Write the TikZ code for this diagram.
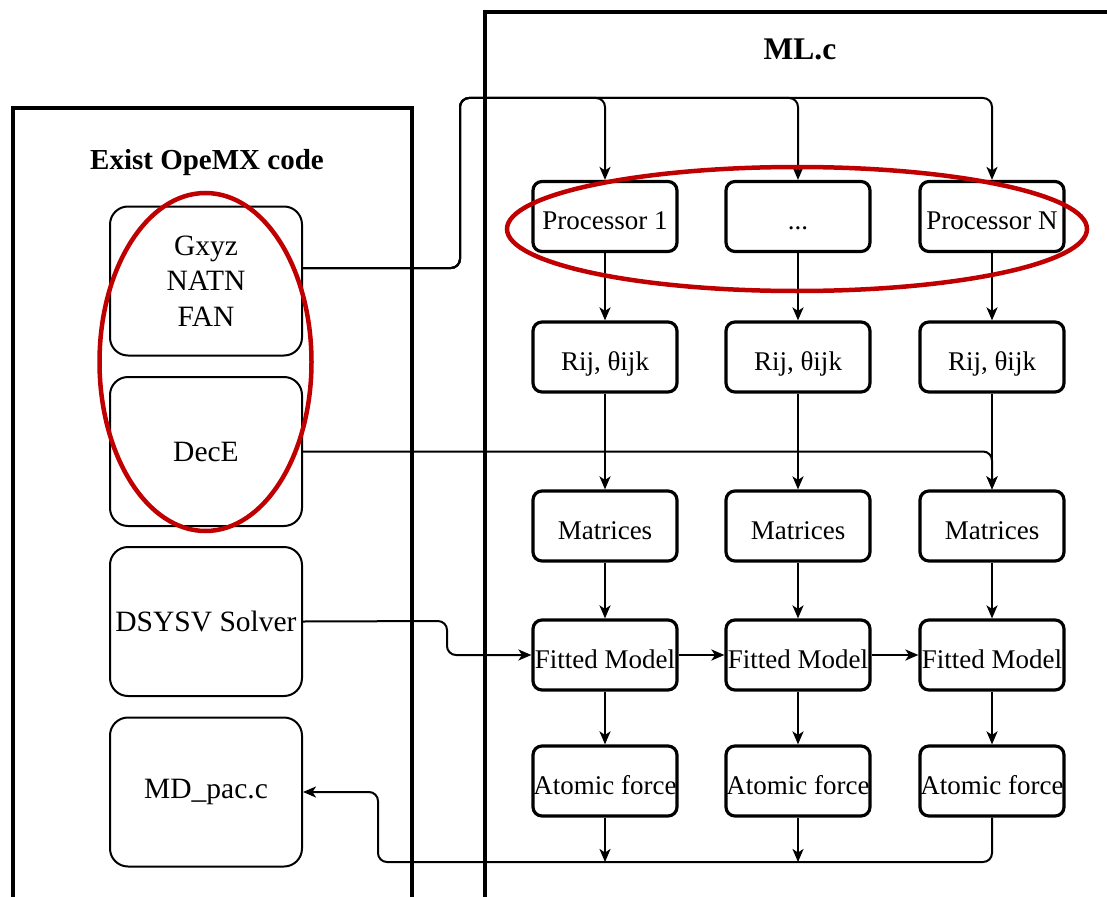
\documentclass[tikz,border=0pt]{standalone}
\usepackage{fontspec}
\setmainfont{Liberation Serif}
\usetikzlibrary{arrows.meta}
\definecolor{r1}{HTML}{C00000}

\begin{document}
\begin{tikzpicture}[x=1pt,y=-1pt,
  lbox/.style={draw,line width=2pt,rounded corners=18pt,minimum width=192pt,minimum height=149pt,align=center,font=\fontsize{29.5}{35.5}\selectfont},
  rbox/.style={draw,line width=3.2pt,rounded corners=9pt,minimum width=144pt,minimum height=70pt,inner sep=0pt,text height=26pt,text depth=0pt,font=\fontsize{27}{32}\selectfont},
  wire/.style={line width=2pt,rounded corners=9pt,-{Stealth[length=13pt,width=11pt,inset=3.5pt]}},
  frame/.style={line width=3.2pt},
  ring/.style={r1,line width=4.5pt}]
\useasboundingbox (0,0) rectangle (1107,896);

% the two code blocks
\draw[frame] (13,900) -- (13,108) -- (412,108) -- (412,900);
\draw[frame] (485,900) -- (485,12) -- (1110,12);
\node[font=\bfseries\fontsize{31.5}{36}\selectfont] (mltitle) at (800,49) {ML.c};
\node[font=\bfseries\fontsize{29}{34}\selectfont] (extitle) at (207,163) {Exist OpeMX code};

% existing code
\node[lbox] (gxyz) at (206,281) {Gxyz\\NATN\\FAN};
\node[lbox] (dece) at (206,451.5) {DecE};
\node[lbox] (dsysv) at (206,621.5) {DSYSV Solver};
\node[lbox] (mdpac) at (206,792) {MD\_pac.c};

% one column per processor
\foreach \c/\x/\t in {1/605/{Processor 1},2/798/{...},N/992/{Processor N}}{
  \node[rbox] (pro\c) at (\x,216.5) {\t};
  \node[rbox] (rij\c) at (\x,357) {Rij, θijk};
  \node[rbox] (mat\c) at (\x,526) {Matrices};
  \node[rbox] (fit\c) at (\x,655) {Fitted Model};
  \node[rbox] (atom\c) at (\x,781) {Atomic force};
  \draw[wire] (gxyz.east |- 0,268) -- (460,268) -- (460,98) -| (pro\c.north);
  \draw[wire] (pro\c) -- (rij\c);
  \draw[wire] (rij\c) -- (mat\c);
  \draw[wire] (mat\c) -- (fit\c);
  \draw[wire] (fit\c) -- (atom\c);
}
\coordinate (back) at (378,862);
\draw[wire] (dece.east) -| (matN.north);
\draw[wire] (dsysv.east) -- (447,621) |- (fit1.west);
\draw[wire] (fit1) -- (fit2);
\draw[wire] (fit2) -- (fitN);
\draw[wire] (atom1) -- (atom1 |- back);
\draw[wire] (atom2) -- (atom2 |- back);
\draw[wire] (atomN.south) |- (back) |- (mdpac.east);

% marked parts
\draw[ring] (205.5,362) ellipse [x radius=106, y radius=169];
\draw[ring] (797,229) ellipse [x radius=290, y radius=62];
\end{tikzpicture}
\end{document}
